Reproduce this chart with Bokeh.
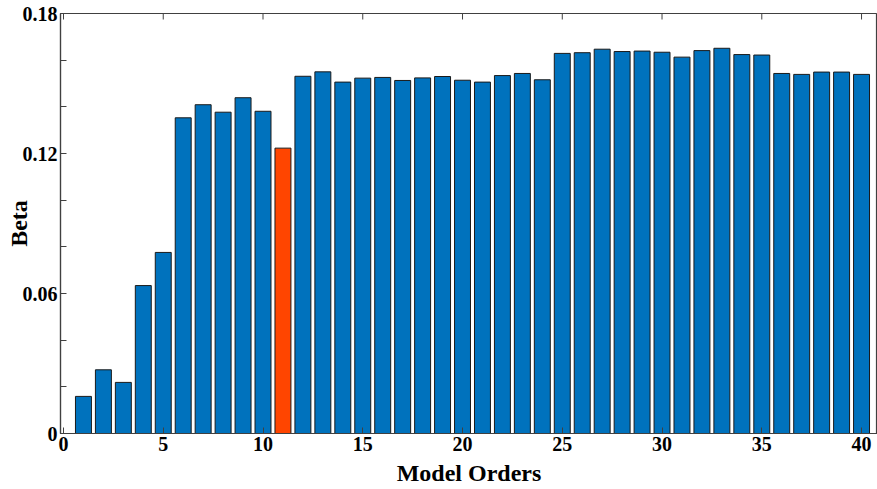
import math
from bokeh.plotting import figure
from bokeh.models import ColumnDataSource, FixedTicker, Range1d
from bokeh.embed import file_html
from bokeh.resources import INLINE

orders = list(range(1, 41))
beta = [0.0159, 0.0273, 0.0219, 0.0634, 0.0776, 0.1353, 0.1409, 0.1377, 0.1439, 0.1381,
        0.1223, 0.1531, 0.1550, 0.1506, 0.1523, 0.1526, 0.1513, 0.1524, 0.1530, 0.1514,
        0.1506, 0.1534, 0.1543, 0.1516, 0.1629, 0.1632, 0.1647, 0.1637, 0.1639, 0.1634,
        0.1613, 0.1641, 0.1651, 0.1624, 0.1622, 0.1543, 0.1539, 0.1549, 0.1549, 0.1539]
highlight_order = 11
x_ticks = [0, 5, 10, 15, 20, 25, 30, 35, 40]
y_ticks = [0, 0.06, 0.12, 0.18]
y_minor = [0.02, 0.04, 0.08, 0.10, 0.14, 0.16]
y_labels = ["0", "0.06", "0.12", "0.18"]
y_max = 0.18

BLUE = "#0072BD"
RED = "#FF4500"
colors = [RED if o == highlight_order else BLUE for o in orders]
src = ColumnDataSource(dict(x=orders, top=beta, color=colors))

FONT = "Liberation Serif"
AXC = "#404040"

p = figure(width=877, height=489, output_backend="svg", toolbar_location=None,
           x_range=Range1d(-0.15, 40.8), y_range=Range1d(0, y_max),
           min_border_left=60, min_border_right=0, min_border_top=13, min_border_bottom=56)
p.vbar(x="x", top="top", width=0.8, bottom=0, source=src, fill_color="color",
       line_color="#1a1a1a", line_width=1)

# mirrored ticks on the top edge (inward)
p.ray(x=x_ticks, y=[y_max] * len(x_ticks), length=6, length_units="screen",
      angle=-math.pi / 2, line_color=AXC, line_width=1)

p.xgrid.visible = False
p.ygrid.visible = False
p.outline_line_color = AXC
p.outline_line_width = 1.2
p.background_fill_color = "white"
p.border_fill_color = "white"

xa = p.xaxis[0]
xa.ticker = FixedTicker(ticks=x_ticks, minor_ticks=[])
xa.axis_label = "Model Orders"
ya = p.yaxis[0]
ya.ticker = FixedTicker(ticks=y_ticks, minor_ticks=y_minor)
ya.major_label_overrides = {t: l for t, l in zip(y_ticks, y_labels)}
ya.axis_label = "Beta"

for ax in (xa, ya):
    ax.axis_line_color = AXC
    ax.axis_line_width = 1.2
    ax.major_tick_in = 6
    ax.major_tick_out = 0
    ax.minor_tick_in = 6
    ax.minor_tick_out = 0
    ax.major_tick_line_color = AXC
    ax.minor_tick_line_color = AXC
    ax.major_label_text_font = FONT
    ax.major_label_text_font_style = "bold"
    ax.major_label_text_font_size = "20px"
    ax.major_label_text_color = "black"
    ax.axis_label_text_font = FONT
    ax.axis_label_text_font_style = "bold"
    ax.axis_label_text_font_size = "24px"
    ax.axis_label_text_color = "black"
    ax.major_label_standoff = 3

xa.axis_label_standoff = 6
ya.axis_label_standoff = -12

open("out.html", "w").write(file_html(p, INLINE))
